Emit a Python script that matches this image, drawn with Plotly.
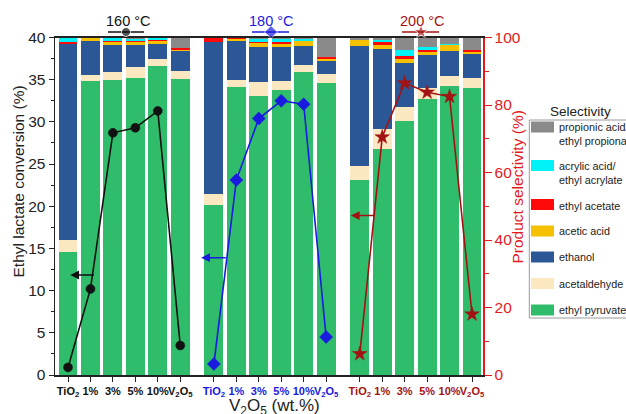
import plotly.graph_objects as go

# ---------------- data ----------------
materials = ["TiO<sub>2</sub>", "1%", "3%", "5%", "10%", "V<sub>2</sub>O<sub>5</sub>"]
temperatures = ["160 °C", "180 °C", "200 °C"]

# product selectivity (%), 18 bars: 3 temperatures x 6 catalysts
ethyl_pyruvate = [36.4, 87.0, 87.3, 87.9, 91.5, 87.8, 50.3, 85.3, 82.8, 84.5, 89.7, 86.6, 57.7, 67.1, 75.4, 81.8, 85.7, 85.1]
acetaldehyde   = [3.6, 2.0, 2.6, 3.5, 2.0, 2.2, 3.4, 2.2, 4.0, 2.6, 2.2, 2.7, 4.1, 5.9, 4.0, 3.3, 2.8, 3.0]
ethanol        = [58.0, 10.0, 7.9, 6.4, 4.6, 5.9, 44.9, 11.4, 10.3, 10.0, 5.7, 3.7, 35.8, 23.7, 13.0, 9.6, 7.4, 6.9]
acetic_acid    = [0.0, 0.8, 0.9, 0.9, 1.0, 0.4, 0.0, 0.6, 1.2, 1.1, 1.4, 0.5, 1.8, 1.2, 1.2, 0.9, 1.8, 0.7]
ethyl_acetate  = [0.6, 0.3, 0.3, 0.4, 0.3, 0.6, 1.4, 0.3, 0.4, 0.5, 0.0, 0.7, 0.0, 0.7, 0.9, 0.6, 0.0, 0.7]
acrylic        = [1.4, 0.2, 0.8, 0.5, 0.4, 0.0, 0.0, 0.2, 1.0, 1.0, 0.7, 0.0, 0.0, 0.8, 1.9, 1.1, 0.4, 0.0]
propionic      = [0.0, 0.0, 0.2, 0.4, 0.2, 3.1, 0.0, 0.0, 0.3, 0.3, 0.3, 5.8, 0.6, 0.6, 3.6, 2.7, 1.9, 3.6]

# ethyl lactate conversion (%)
conv_160 = [0.9, 10.2, 28.7, 29.3, 31.3, 3.5]
conv_180 = [1.3, 23.1, 30.4, 32.5, 32.1, 4.5]
conv_200 = [2.5, 28.2, 34.6, 33.5, 33.0, 7.2]

product_names = ["ethyl pyruvate", "acetaldehyde", "ethanol", "acetic acid",
                 "ethyl acetate", "acrylic acid/<br>ethyl acrylate",
                 "propionic acid/<br>ethyl propionate"]
product_values = [ethyl_pyruvate, acetaldehyde, ethanol, acetic_acid,
                  ethyl_acetate, acrylic, propionic]
conversions = [conv_160, conv_180, conv_200]

# ---------------- style / layout geometry ----------------
FONT = "Liberation Sans, Arial, sans-serif"
product_colors = ["#2fbd6c", "#fbe8c0", "#2b5796", "#f5c000", "#ff0a0a", "#00f2f7", "#8a8a8a"]
temp_colors = ["#111111", "#1a1ae0", "#a31212"]
temp_symbols = ["circle", "diamond", "star"]
temp_sizes = [9, 10, 11]
RED = "#e3191c"
DARK = "#222222"

W, H = 626, 414
L, R, T, B = 55, 483, 10, 375          # plot-area / paper pixel bounds
PW, PH = R - L, B - T
TOP = 37.5                              # top of the main axes (pixels)


def px(x):
    return (x - L) / PW


def py(y):
    return (B - y) / PH


positions = [g * 6.5 + i for g in range(3) for i in range(6)]

fig = go.Figure()

for name, vals, col in zip(product_names, product_values, product_colors):
    fig.add_trace(go.Bar(
        x=positions, y=vals, name=name, width=0.84,
        marker=dict(color=col, line=dict(width=0)),
        yaxis="y", xaxis="x", showlegend=False,
    ))

for g, (conv, col, sym, sz) in enumerate(zip(conversions, temp_colors, temp_symbols, temp_sizes)):
    fig.add_trace(go.Scatter(
        x=positions[g * 6:(g + 1) * 6], y=conv, mode="lines+markers",
        line=dict(color=col, width=1.6),
        marker=dict(symbol=sym, size=sz, color=col, line=dict(color=col, width=0.5)),
        yaxis="y2", showlegend=False, name=temperatures[g],
    ))

# header symbols (line + marker) above each group, on an auxiliary pixel-space axis
header_px = [(108, 126, 144), (252, 271, 289), (402, 421, 439)]
for (x0, xm, x1), col, sym, sz in zip(header_px, temp_colors, temp_symbols, temp_sizes):
    fig.add_trace(go.Scatter(
        x=[x0, xm, x1], y=[32, 32, 32], mode="lines+markers",
        line=dict(color=col, width=1.6),
        marker=dict(symbol=sym, size=[0, sz, 0], color=col),
        xaxis="x3", yaxis="y3", showlegend=False, hoverinfo="skip",
    ))

ticktext = []
for g in range(3):
    for m in materials:
        ticktext.append(f"<span style='color:{temp_colors[g]}'><b>{m}</b></span>")

annotations = []
shapes = []

# temperature labels
for txt, col, cx in zip(temperatures, temp_colors, [128, 271, 422]):
    annotations.append(dict(text=txt, xref="paper", yref="paper", x=px(cx), y=py(21),
                            showarrow=False, xanchor="center", yanchor="middle",
                            font=dict(size=14.5, color=col, family=FONT)))
# arrows pointing to the conversion axis
arrow_specs = [(0.10, 1.22, 11.85), (5.93, 7.09, 13.9), (12.6, 13.7, 18.9)]
for (tip, tail, lvl), col in zip(arrow_specs, temp_colors):
    annotations.append(dict(x=tip, y=lvl, ax=tail, ay=lvl, xref="x", yref="y2",
                            axref="x", ayref="y2", text="", showarrow=True,
                            arrowhead=2, arrowsize=1.1, arrowwidth=1.6, arrowcolor=col))
# axis titles
annotations.append(dict(text="Ethyl lactate conversion (%)", xref="paper", yref="paper",
                        x=px(18.5), y=py(182), textangle=-90, showarrow=False,
                        xanchor="center", yanchor="middle",
                        font=dict(size=15.5, color=DARK, family=FONT)))
annotations.append(dict(text="Product selectivity (%)", xref="paper", yref="paper",
                        x=px(516.5), y=py(187), textangle=-90, showarrow=False,
                        xanchor="center", yanchor="middle",
                        font=dict(size=15.5, color=RED, family=FONT)))
annotations.append(dict(text="V<sub>2</sub>O<sub>5</sub> (wt.%)", xref="paper", yref="paper",
                        x=px(274), y=py(407), showarrow=False,
                        xanchor="center", yanchor="middle",
                        font=dict(size=17, color=DARK, family=FONT)))

# hand-drawn legend ("Selectivity")
annotations.append(dict(text="Selectivity", xref="paper", yref="paper", x=px(580), y=py(112),
                        showarrow=False, xanchor="center", yanchor="middle",
                        font=dict(size=13.5, color=DARK, family=FONT)))
shapes.append(dict(type="rect", xref="paper", yref="paper",
                   x0=px(529.3), x1=px(660), y0=py(318), y1=py(120),
                   line=dict(color="#9a9a9a", width=1), fillcolor="rgba(0,0,0,0)"))
legend_sym_y = [310, 283.5, 257, 231, 204.5, 165.5, 127]     # symbol centres, bottom item first
legend_txt_y = [310, 283.5, 256.7, 231, 206, 172.7, 134.2]
for name, col, sy, ty in zip(product_names, product_colors, legend_sym_y, legend_txt_y):
    shapes.append(dict(type="rect", xref="paper", yref="paper",
                       x0=px(531), x1=px(554), y0=py(sy + 5.5), y1=py(sy - 5.5),
                       line=dict(width=0), fillcolor=col))
    annotations.append(dict(text=name, xref="paper", yref="paper", x=px(556.5), y=py(ty),
                            showarrow=False, xanchor="left", yanchor="middle", align="left",
                            font=dict(size=10.8, color=DARK, family=FONT)))

fig.update_layout(
    width=W, height=H,
    margin=dict(l=L, r=W - R, t=T, b=H - B, autoexpand=False),
    paper_bgcolor="white", plot_bgcolor="white",
    barmode="stack", bargap=0, showlegend=False,
    font=dict(family=FONT, color=DARK),
    xaxis=dict(range=[-0.58, 18.49], tickvals=positions, ticktext=ticktext, tickangle=0,
               tickfont=dict(size=11, family=FONT), ticks="outside", ticklen=5,
               tickcolor=DARK, showline=True, linecolor=DARK, linewidth=1.5,
               mirror=True, showgrid=False, zeroline=False, anchor="y"),
    yaxis=dict(range=[0, 100], side="right", domain=[0, py(TOP)], anchor="x",
               tickvals=[0, 20, 40, 60, 80, 100], tickfont=dict(size=15.5, color=RED, family=FONT),
               ticks="outside", ticklen=7, tickcolor=RED, showline=True, linecolor=RED,
               linewidth=1.5, showgrid=False, zeroline=False,
               minor=dict(dtick=10, ticks="outside", ticklen=4, tickcolor=RED)),
    yaxis2=dict(range=[0, 40], side="left", overlaying="y", anchor="x",
                tickvals=[0, 5, 10, 15, 20, 25, 30, 35, 40],
                tickfont=dict(size=15.5, color=DARK, family=FONT),
                ticks="outside", ticklen=5, tickcolor=DARK, showline=True,
                linecolor=DARK, linewidth=1.5, showgrid=False, zeroline=False,
                minor=dict(dtick=2.5, ticks="outside", ticklen=3, tickcolor=DARK)),
    xaxis3=dict(domain=[0, 1], range=[L, R], visible=False, anchor="y3", fixedrange=True),
    yaxis3=dict(domain=[py(TOP), 1], range=[TOP, T], visible=False, anchor="x3", fixedrange=True),
    annotations=annotations,
    shapes=shapes,
)

fig.write_html(
    "out.html",
    config={"displayModeBar": False, "staticPlot": True},
    post_script="document.body.style.margin='0';document.body.style.overflow='hidden';",
)
